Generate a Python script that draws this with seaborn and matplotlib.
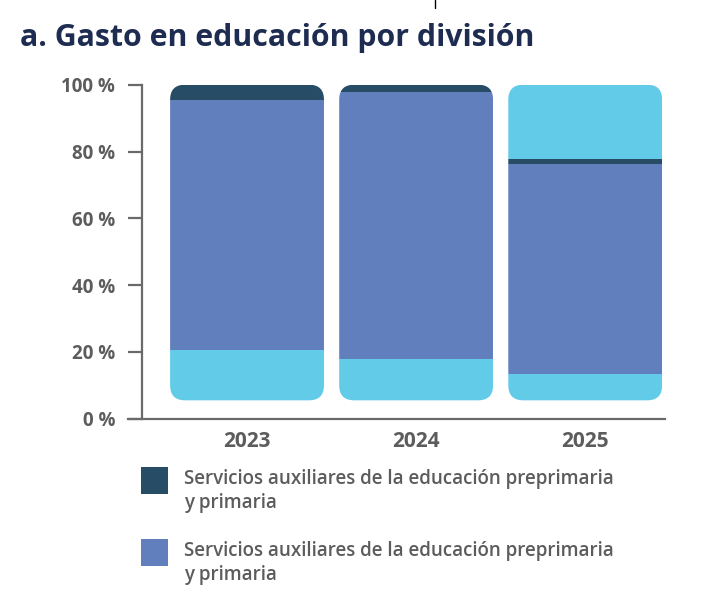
import matplotlib
matplotlib.use("Agg")
import matplotlib.pyplot as plt
import seaborn as sns
import pandas as pd
from matplotlib.patches import FancyBboxPatch, Patch
from matplotlib.lines import Line2D

# data (shares in %)
years = ["2023", "2024", "2025"]
cyan_base = [20.5, 18.0, 13.3]
blue_mid = [75.0, 79.8, 62.9]
dark_top = [4.5, 2.2, 1.6]
cyan_top = [0.0, 0.0, 22.2]
y_ticks = [0, 20, 40, 60, 80, 100]
legend_labels = [
    "Servicios auxiliares de la educación preprimaria\ny primaria",
    "Servicios auxiliares de la educación preprimaria\ny primaria",
]
title = "a. Gasto en educación por división"

CYAN = "#62cbe8"
BLUE = "#627fbd"
DARK = "#264c66"
GRAY = "#5c5c5c"
AXIS = "#6a6a6a"
NAVY = "#1d2c50"

sns.set_theme(style="white")
plt.rcParams["font.family"] = ["Open Sans", "DejaVu Sans"]

W, H = 726, 600
fig = plt.figure(figsize=(W / 100, H / 100), dpi=100)
ax = fig.add_axes([141.7 / W, 1 - 418.7 / H, (664.7 - 141.7) / W, (418.7 - 84.7) / H])

layers = [(cyan_base, CYAN), (blue_mid, BLUE), (dark_top, DARK), (cyan_top, CYAN)]
bar_w = 0.91
bar_floor = 5.5   # visual inset of the rounded bars above the axis
xlim = (-0.623, 2.47)
ylim = (0, 100)

bottoms = [0.0] * len(years)
containers = []
for vals, col in layers:
    df = pd.DataFrame({"year": years, "value": vals})
    sns.barplot(data=df, x="year", y="value", order=years, color=col,
                saturation=1, width=bar_w, errorbar=None, bottom=bottoms,
                linewidth=0, ax=ax)
    containers.append(ax.containers[-1])
    bottoms = [b + v for b, v in zip(bottoms, vals)]

ax.set_xlim(*xlim)
ax.set_ylim(*ylim)

# rounded clip for each bar
ax_w_px = (664.7 - 141.7)
ax_h_px = (418.7 - 84.7)
px_x = ax_w_px / (xlim[1] - xlim[0])
px_y = ax_h_px / (ylim[1] - ylim[0])
aspect = px_x / px_y
radius = 15 / px_x
for i, tot in enumerate(bottoms):
    clip = FancyBboxPatch((i - bar_w / 2, bar_floor), bar_w, tot - bar_floor,
                          boxstyle=f"round,pad=0,rounding_size={radius}",
                          mutation_aspect=aspect, transform=ax.transData)
    for cont in containers:
        cont.patches[i].set_clip_path(clip)

ax.set_yticks(y_ticks)
ax.set_yticklabels([f"{v} %" for v in y_ticks])
ax.set_xlabel("")
ax.set_ylabel("")
for s in ["top", "right"]:
    ax.spines[s].set_visible(False)
for s in ["left", "bottom"]:
    ax.spines[s].set_color(AXIS)
    ax.spines[s].set_linewidth(1.6)
ax.spines["bottom"].set_bounds(xlim[0] - 14 / px_x, xlim[1])
ax.spines["bottom"].set_clip_on(False)
ax.tick_params(axis="y", direction="out", length=10, width=1.6, color=AXIS,
               pad=9, labelsize=13.5, labelcolor=GRAY, left=True)
ax.tick_params(axis="x", length=0, pad=9, labelsize=15, labelcolor=GRAY)
for lab in ax.get_yticklabels() + ax.get_xticklabels():
    lab.set_fontweight("bold")

fig.text(20 / W, 1 - 38 / H, title, fontsize=21.8, fontweight="bold",
         color=NAVY, va="center", ha="left")

handles = [Patch(facecolor=DARK, edgecolor="none"), Patch(facecolor=BLUE, edgecolor="none")]
leg = fig.legend(handles, legend_labels, loc="upper left",
                 bbox_to_anchor=(141 / W, 1 - 469 / H), frameon=False,
                 borderpad=0, borderaxespad=0, handlelength=1.44, handleheight=1.84,
                 handletextpad=0.85, labelspacing=1.5,
                 prop={"weight": "semibold", "size": 13.5})
for t in leg.get_texts():
    t.set_color(GRAY)
    t.set_linespacing(1.25)
# lift the squares so they sit level with the first text line
for h in leg.legend_handles:
    h.set_y(h.get_y() + 8.6)

fig.add_artist(Line2D([435 / W, 435 / W], [1, 1 - 8 / H], color="black", lw=1))

fig.savefig("out.png", dpi=100)
